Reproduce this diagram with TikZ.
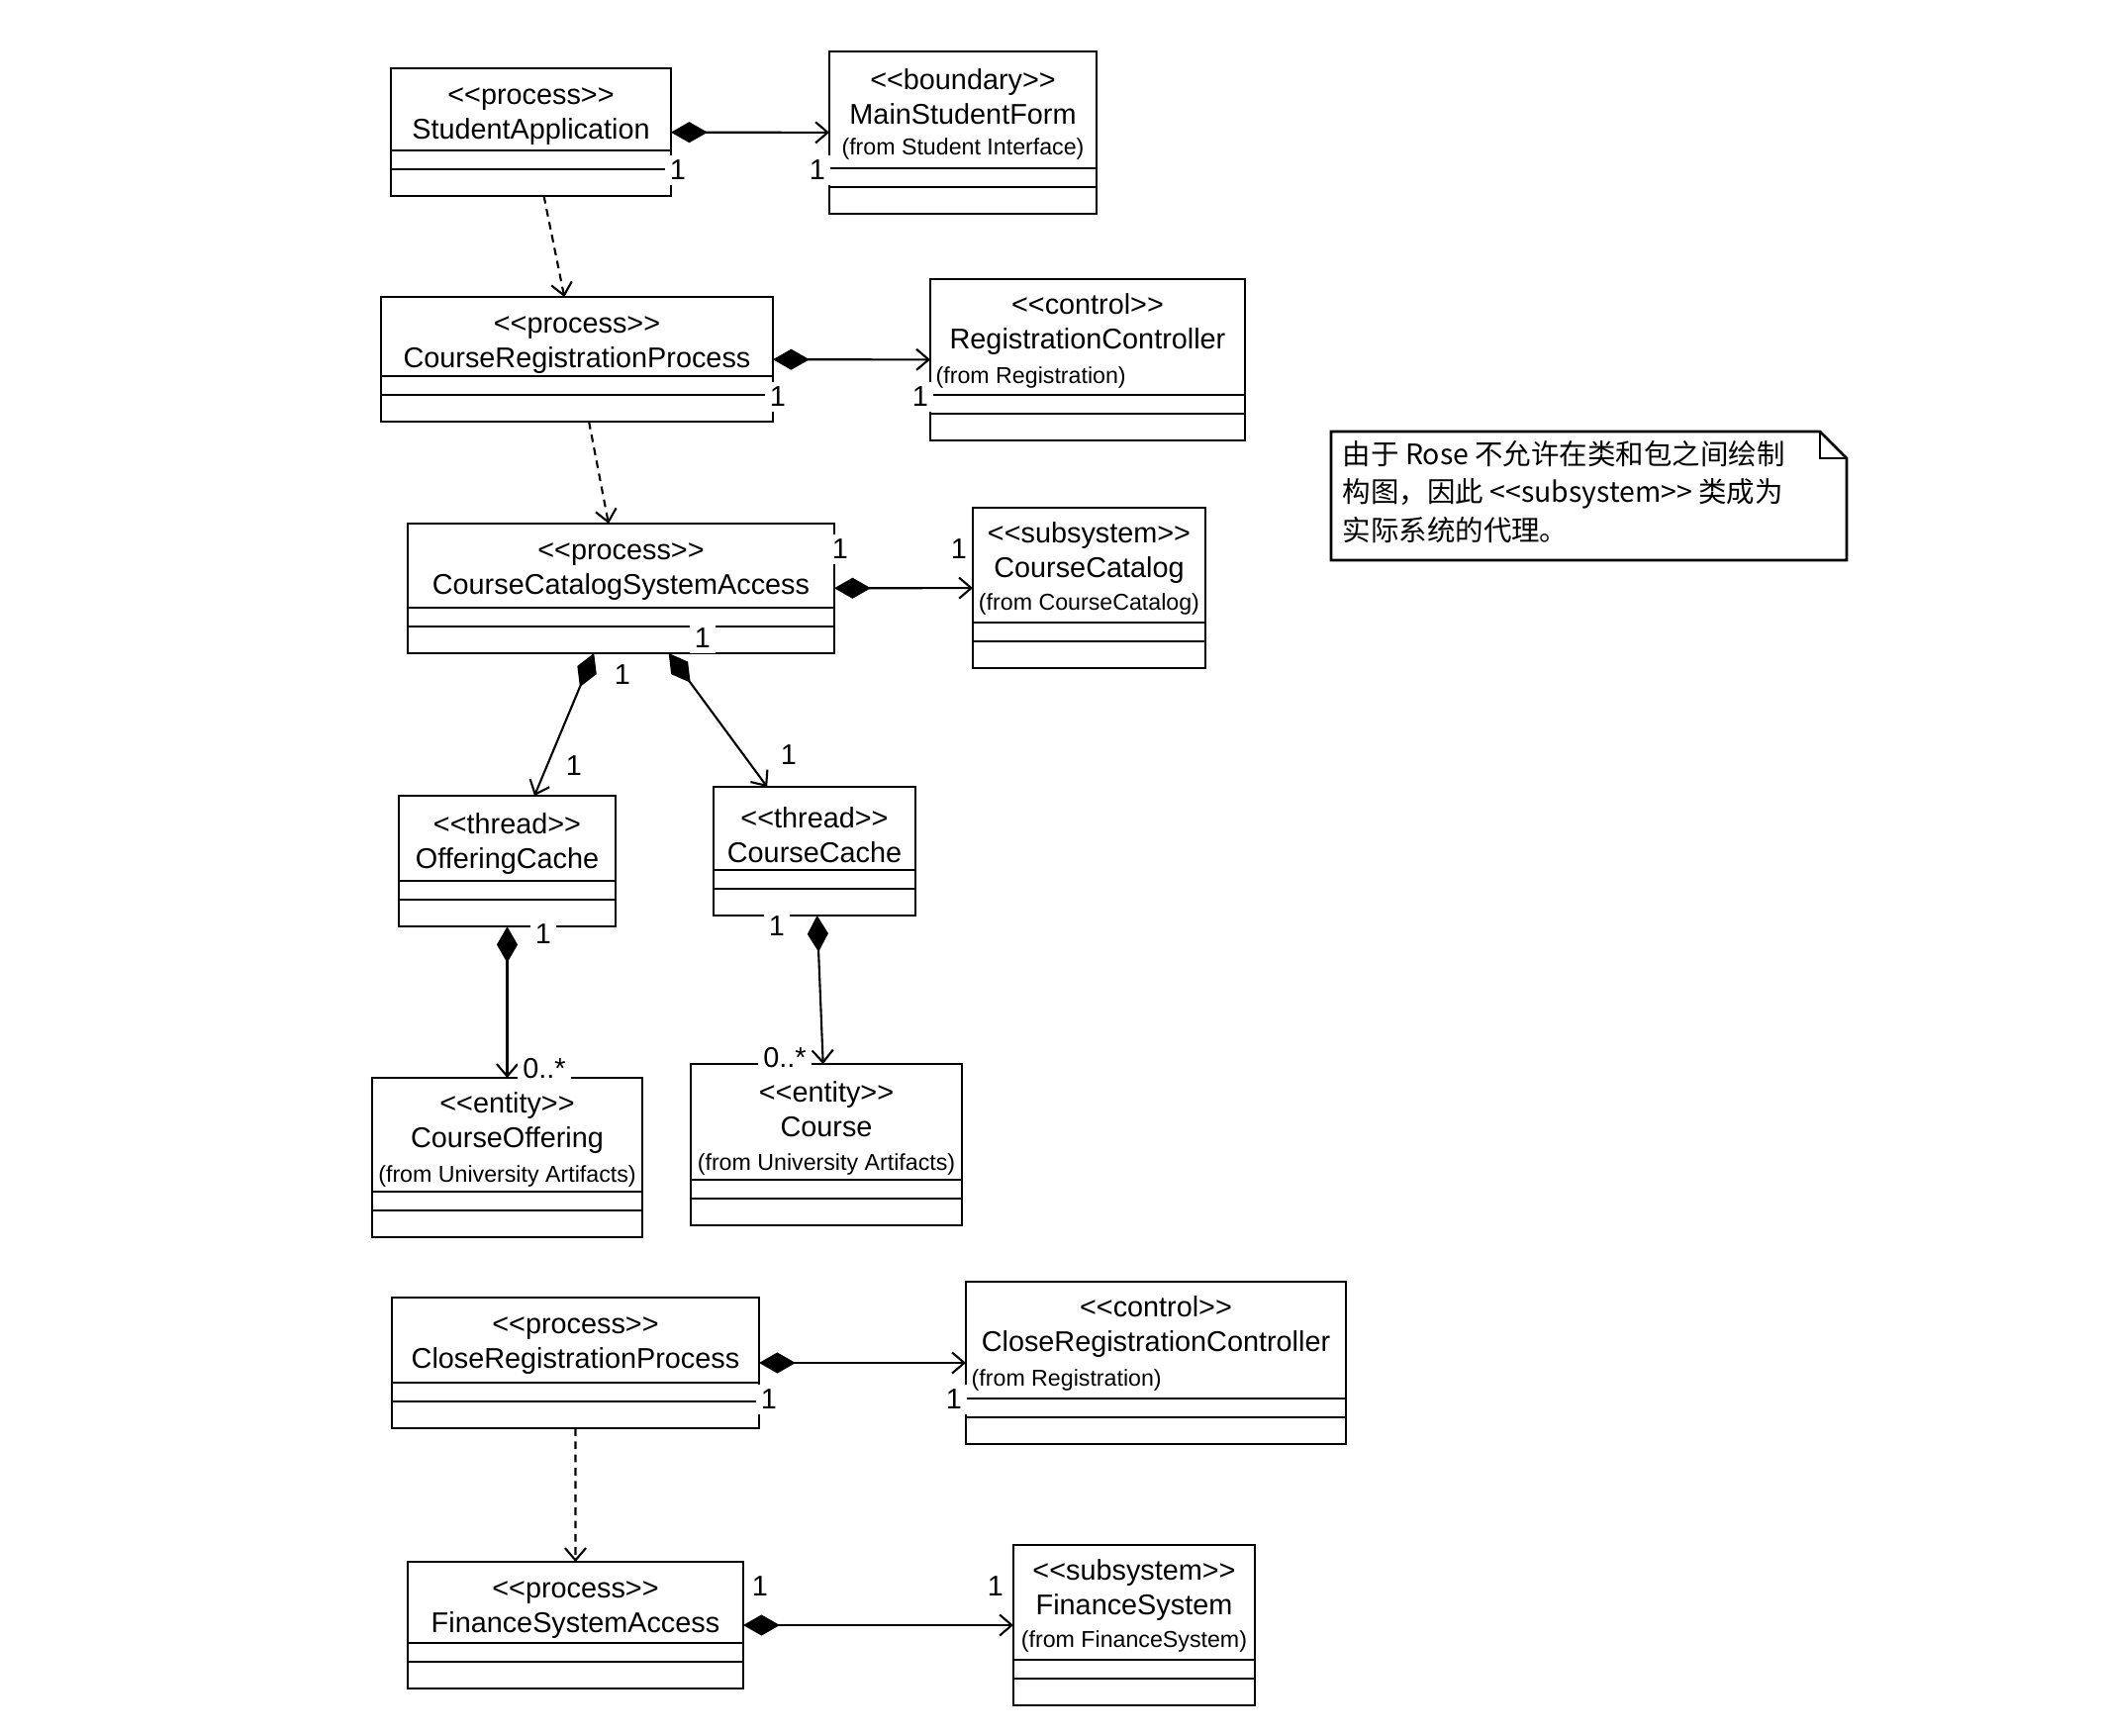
\documentclass[tikz,border=0pt]{standalone}
\usepackage{fontspec}
\setmainfont{Liberation Sans}
\newfontfamily\cjk{Noto Sans CJK SC}
\usetikzlibrary{arrows.meta}
\usetikzlibrary{fit}
\newcommand{\clsfont}{\fontsize{8.2}{10}\selectfont}
\newcommand{\fromfont}{\fontsize{6.6}{8}\selectfont}
\newcommand{\stereo}[1]{<\kern0pt<#1>\kern0pt>}
\tikzset{cls/.style = {draw, line width = 0.75pt, inner sep = 0, outer sep = 0}}
\tikzset{clstext/.style = {align = center, font = \clsfont, inner sep = 0}}
\tikzset{fromtext/.style = {font = \fromfont, inner sep = 0}}
\tikzset{mult/.style = {fill = white, font = \clsfont, inner sep = 1.5pt}}
\tikzset{comp/.style = {line width = 0.6pt, {Diamond[length = 10.5pt, width = 6pt]}-{Straight Barb[length = 3.5pt, width = 6pt]}}}
\tikzset{dep/.style = {line width = 0.6pt, dash pattern = on 2.2pt off 1.6pt, -{Straight Barb[length = 3.5pt, width = 6pt]}}}
\tikzset{notetext/.style = {align = left, anchor = west, font = \cjk\fontsize{8.1}{11}\selectfont, inner sep = 0}}
\newcommand{\umlclass}[5][0.485cm]{%
  \node [cls, fit = {#3 #4}] (#2) {};
  \node [clstext] (#2-t) at ([yshift = -#1] #2.north) {#5};
  \draw [line width = 0.6pt] ([yshift = 0.46cm] #2.south west) -- ([yshift = 0.46cm] #2.south east);
  \draw [line width = 0.6pt] ([yshift = 0.27cm] #2.south west) -- ([yshift = 0.27cm] #2.south east);
}
\begin{document}
\begin{tikzpicture}
    \useasboundingbox (0, 0) rectangle (21.26, -17.54);

    % classes
    \umlclass{sa}{(3.95, -0.69)}{(6.78, -1.98)}{\stereo{process}\\StudentApplication}
    \umlclass[0.455cm]{msf}{(8.38, -0.52)}{(11.08, -2.16)}{\stereo{boundary}\\MainStudentForm}
    \umlclass{crp}{(3.85, -3.00)}{(7.81, -4.26)}{\stereo{process}\\CourseRegistrationProcess}
    \umlclass[0.455cm]{rc}{(9.40, -2.82)}{(12.58, -4.45)}{\stereo{control}\\RegistrationController}
    \umlclass{ccsa}{(4.12, -5.29)}{(8.43, -6.60)}{\stereo{process}\\CourseCatalogSystemAccess}
    \umlclass[0.455cm]{cc}{(9.83, -5.13)}{(12.18, -6.75)}{\stereo{subsystem}\\CourseCatalog}
    \umlclass{oc}{(4.03, -8.04)}{(6.22, -9.36)}{\stereo{thread}\\OfferingCache}
    \umlclass{cch}{(7.21, -7.95)}{(9.25, -9.25)}{\stereo{thread}\\CourseCache}
    \umlclass[0.455cm]{co}{(3.76, -10.89)}{(6.49, -12.50)}{\stereo{entity}\\CourseOffering}
    \umlclass[0.455cm]{crs}{(6.98, -10.75)}{(9.72, -12.38)}{\stereo{entity}\\Course}
    \umlclass{clp}{(3.96, -13.11)}{(7.67, -14.43)}{\stereo{process}\\CloseRegistrationProcess}
    \umlclass[0.455cm]{crc}{(9.76, -12.95)}{(13.60, -14.59)}{\stereo{control}\\CloseRegistrationController}
    \umlclass{fsa}{(4.12, -15.78)}{(7.51, -17.06)}{\stereo{process}\\FinanceSystemAccess}
    \umlclass[0.455cm]{fs}{(10.24, -15.61)}{(12.68, -17.23)}{\stereo{subsystem}\\FinanceSystem}

    \node [fromtext] (msf-f) at ([yshift = -0.98cm] msf.north) {(from Student Interface)};
    \node [fromtext, anchor = west] (rc-f) at ([xshift = 0.05cm, yshift = -0.99cm] rc.north west) {(from Registration)};
    \node [fromtext] (cc-f) at ([yshift = -0.97cm] cc.north) {(from CourseCatalog)};
    \node [fromtext] (co-f) at ([yshift = -0.99cm] co.north) {(from University Artifacts)};
    \node [fromtext] (crs-f) at ([yshift = -1.01cm] crs.north) {(from University Artifacts)};
    \node [fromtext, anchor = west] (crc-f) at ([xshift = 0.05cm, yshift = -0.99cm] crc.north west) {(from Registration)};
    \node [fromtext] (fs-f) at ([yshift = -0.97cm] fs.north) {(from FinanceSystem)};

    % associations
    \draw [comp] (sa) -- (msf);
    \draw [dep] (sa) -- (crp);
    \draw [comp] (crp) -- (rc);
    \draw [dep] (crp) -- (ccsa);
    \draw [comp] (ccsa) -- (cc);
    \draw [comp] (ccsa) -- (oc);
    \draw [comp] (ccsa) -- (cch);
    \draw [comp] (oc) -- (co);
    \draw [comp] (cch) -- (crs);
    \draw [comp] (clp) -- (crc);
    \draw [dep] (clp) -- (fsa);
    \draw [comp] (fsa) -- (fs);

    % multiplicities
    \node [mult] (m1) at (6.85, -1.72) {1};
    \node [mult] (m2) at (8.26, -1.72) {1};
    \node [mult] (m3) at (7.86, -4.01) {1};
    \node [mult] (m4) at (9.30, -4.01) {1};
    \node [mult] (m5) at (8.49, -5.55) {1};
    \node [mult] (m6) at (9.69, -5.55) {1};
    \node [mult] (m7) at (7.10, -6.45) {1};
    \node [mult] (m8) at (6.29, -6.82) {1};
    \node [mult] (m9) at (5.80, -7.74) {1};
    \node [mult] (m10) at (7.97, -7.63) {1};
    \node [mult] (m11) at (5.49, -9.44) {1};
    \node [mult] (m12) at (5.50, -10.80) {0..*};
    \node [mult] (m13) at (7.85, -9.36) {1};
    \node [mult] (m14) at (7.93, -10.69) {0..*};
    \node [mult] (m15) at (7.77, -14.14) {1};
    \node [mult] (m16) at (9.64, -14.14) {1};
    \node [mult] (m17) at (7.68, -16.03) {1};
    \node [mult] (m18) at (10.06, -16.03) {1};

    % note
    \draw [line width = 0.75pt] (13.45, -4.36) -- (18.39, -4.36) -- (18.66, -4.63) -- (18.66, -5.66) -- (13.45, -5.66) -- cycle;
    \draw [line width = 0.75pt] (18.39, -4.36) -- (18.39, -4.63) -- (18.66, -4.63);
    \node [notetext] (note) at (13.56, -4.97) {由于 Rose 不允许在类和包之间绘制\\构图，因此 \stereo{subsystem} 类成为\\实际系统的代理。};
\end{tikzpicture}
\end{document}
